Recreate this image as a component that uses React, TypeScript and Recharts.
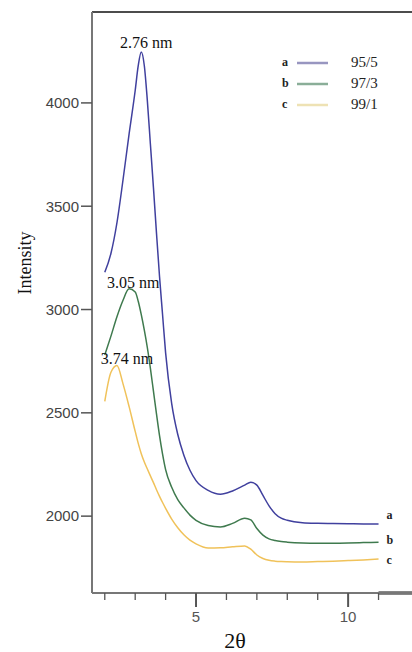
import React from 'react';
import { LineChart, Line, XAxis, YAxis, ReferenceLine, Legend, Label } from 'recharts';

// ---- data ----
const twoTheta = [2.0, 2.2, 2.4, 2.6, 2.8, 3.0, 3.1, 3.2, 3.3, 3.4, 3.5, 3.6, 3.7, 3.8, 3.9, 4.0, 4.2, 4.4, 4.6, 4.8, 5.0, 5.4, 5.8, 6.2, 6.6, 6.8, 7.0, 7.2, 7.4, 7.6, 7.8, 8.0, 8.5, 9, 9.5, 10, 10.5, 11];
const seriesA = [3180, 3270, 3420, 3628, 3850, 4060, 4180, 4246, 4180, 4010, 3800, 3590, 3370, 3160, 2975, 2790, 2545, 2395, 2295, 2222, 2172, 2125, 2106, 2122, 2150, 2164, 2150, 2100, 2050, 2012, 1990, 1980, 1968, 1965, 1964, 1963, 1962, 1962];
const seriesB = [2780, 2870, 2965, 3045, 3100, 3085, 3040, 2975, 2900, 2815, 2715, 2605, 2495, 2390, 2300, 2225, 2140, 2080, 2040, 2005, 1980, 1955, 1948, 1965, 1990, 1982, 1940, 1908, 1890, 1882, 1877, 1874, 1870, 1869, 1869, 1870, 1872, 1874];
const seriesC = [2555, 2695, 2729, 2640, 2530, 2410, 2352, 2302, 2262, 2228, 2195, 2162, 2128, 2096, 2066, 2038, 1986, 1944, 1910, 1884, 1866, 1846, 1847, 1852, 1856, 1840, 1812, 1795, 1786, 1782, 1780, 1779, 1778, 1780, 1782, 1785, 1788, 1792];

const seriesKeys = ['a', 'b', 'c'];
const seriesNames = ['95/5', '97/3', '99/1'];
const peakLabels = ['2.76 nm', '3.05 nm', '3.74 nm'];
const peakX = [3.2, 2.8, 2.4];
const yTicks = [2000, 2500, 3000, 3500, 4000];
const xTicks = [2, 3, 4, 5, 6, 7, 8, 9, 10, 11];
const xLabeled = [5, 10];
const xDomain = [1.58, 12.1];
const yDomain = [1628, 4440];

// ---- styles ----
const lineColors = ['#40409e', '#3f7a4e', '#f0c25a'];
const legendColors = ['#9896c0', '#8aae98', '#eee2b4'];
const serif = "'Liberation Serif', 'Times New Roman', serif";
const sans = "'Liberation Sans', Arial, sans-serif";
const peakOffsets = [
  { dx: 5, dy: -4 },
  { dx: 4, dy: -1 },
  { dx: 10, dy: -2 },
];
const endOffsets = [-9, -2, 1];

const data = twoTheta.map((x, i) => ({ x, a: seriesA[i], b: seriesB[i], c: seriesC[i] }));
const lastIndex = twoTheta.length - 1;

const makeLabel = (si: number) => (props: any) => {
  const { x, y, index } = props;
  if (x == null || y == null) return null;
  if (index === lastIndex) {
    return (
      <text key={`end-${si}`} x={x + 8} y={y + endOffsets[si]} dominantBaseline="central" fontFamily={serif} fontSize={12} fontWeight="bold" fill="#222">
        {seriesKeys[si]}
      </text>
    );
  }
  if (twoTheta[index] === peakX[si]) {
    return (
      <text key={`peak-${si}`} x={x + peakOffsets[si].dx} y={y + peakOffsets[si].dy} textAnchor="middle" fontFamily={serif} fontSize={16} fill="#111">
        {peakLabels[si]}
      </text>
    );
  }
  return null;
};

const XTick = (props: any) => {
  const { x, y, payload } = props;
  const major = xLabeled.includes(payload.value);
  return (
    <g>
      <line x1={x} y1={y} x2={x} y2={y + (major ? 14 : 7)} stroke="#555" strokeWidth={major ? 2 : 1.3} />
      {major && (
        <text x={x} y={y + 29} textAnchor="middle" fontFamily={sans} fontSize={15} fill="#555">
          {payload.value}
        </text>
      )}
    </g>
  );
};

const renderLegend = () => (
  <div style={{ display: 'flex', flexDirection: 'column' }}>
    {seriesNames.map((name, i) => (
      <div key={name} style={{ display: 'flex', alignItems: 'center', height: 21 }}>
        <span style={{ width: 15, paddingLeft: 4, fontFamily: serif, fontSize: 12, fontWeight: 'bold', color: '#222' }}>{seriesKeys[i]}</span>
        <svg width={31} height={4} style={{ display: 'block' }}>
          <line x1={0} y1={2} x2={31} y2={2} stroke={legendColors[i]} strokeWidth={2.5} />
        </svg>
        <span style={{ marginLeft: 23, fontFamily: serif, fontSize: 15, color: '#222' }}>{name}</span>
      </div>
    ))}
  </div>
);

export default function App() {
  return (
    <div style={{ position: 'absolute', left: 0, top: 0, width: 412, height: 652, background: '#fff' }}>
      <LineChart width={412} height={652} data={data} margin={{ top: 12, right: 0, bottom: 0, left: 0 }}>
        <XAxis
          dataKey="x"
          type="number"
          domain={xDomain}
          ticks={xTicks}
          allowDataOverflow
          height={59}
          tickSize={0}
          tickMargin={0}
          tickLine={false}
          tick={<XTick />}
          axisLine={{ stroke: '#777', strokeWidth: 2 }}
          interval={0}
        >
          <Label
            content={(p: any) => (
              <text x={p.viewBox.x + 143} y={p.viewBox.y + 55} textAnchor="middle" fontFamily={serif} fontSize={22} fill="#111">
                2θ
              </text>
            )}
          />
        </XAxis>
        <YAxis
          type="number"
          domain={yDomain}
          ticks={yTicks}
          allowDataOverflow
          width={92}
          tickSize={11}
          tickMargin={2}
          tick={{ fontFamily: sans, fontSize: 15, fill: '#444' }}
          tickLine={{ stroke: '#555', strokeWidth: 1.5 }}
          axisLine={{ stroke: '#777', strokeWidth: 2 }}
          interval={0}
        >
          <Label
            content={(p: any) => {
              const cx = p.viewBox.x + 25;
              const cy = p.viewBox.y + 251;
              return (
                <text x={cx} y={cy} transform={`rotate(-90 ${cx} ${cy})`} textAnchor="middle" dominantBaseline="central" fontFamily={serif} fontSize={18} fill="#111">
                  Intensity
                </text>
              );
            }}
          />
        </YAxis>
        <ReferenceLine y={yDomain[1]} stroke="#111" strokeWidth={1.5} ifOverflow="extendDomain" />
        <ReferenceLine
          segment={[{ x: 11, y: yDomain[0] }, { x: xDomain[1], y: yDomain[0] }]}
          stroke="#111"
          strokeWidth={3}
          ifOverflow="visible"
        />
        <Legend
          layout="horizontal"
          verticalAlign="middle"
          align="center"
          content={renderLegend}
          wrapperStyle={{ position: 'absolute', top: 52, left: 278, width: 130 }}
        />
        {seriesKeys.map((k, i) => (
          <Line
            key={k}
            type="monotone"
            dataKey={k}
            name={seriesNames[i]}
            stroke={lineColors[i]}
            strokeWidth={1.5}
            dot={false}
            isAnimationActive={false}
            label={makeLabel(i)}
          />
        ))}
      </LineChart>
    </div>
  );
}
